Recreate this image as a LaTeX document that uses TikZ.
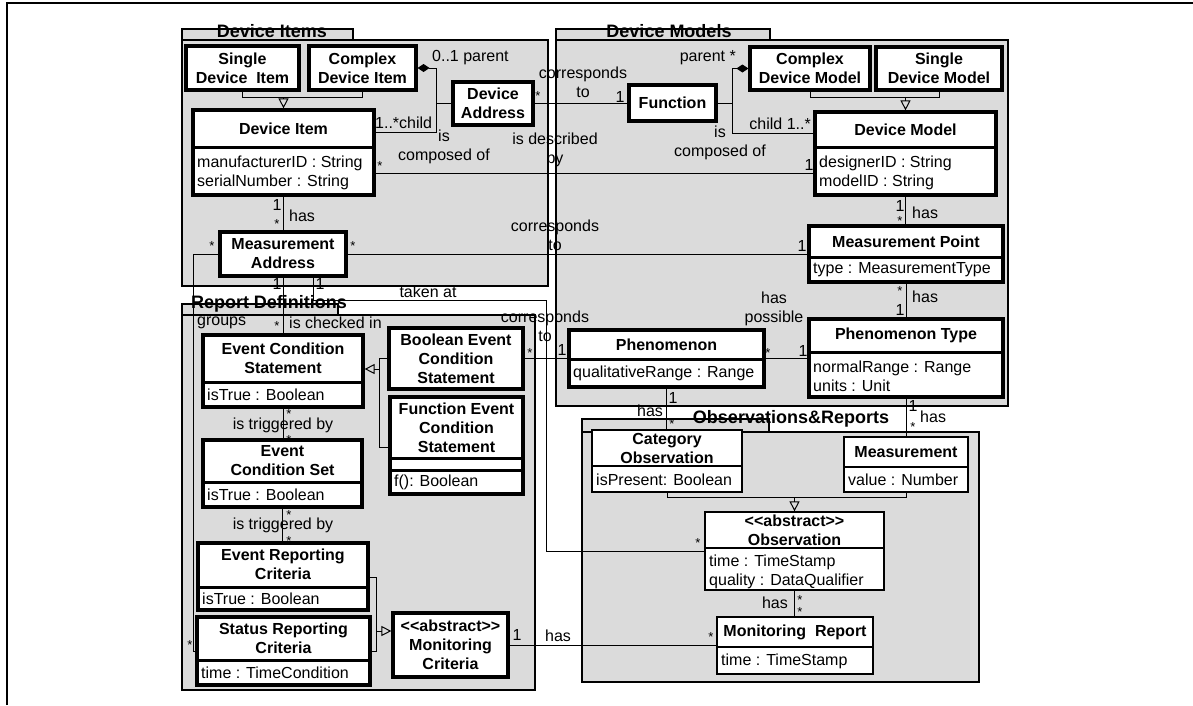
\documentclass[tikz,border=0pt]{standalone}
\usepackage{fontspec}
\setmainfont{Liberation Sans}
\usetikzlibrary{arrows.meta,fit}
\pgfdeclarelayer{bg}
\pgfdeclarelayer{mid}
\pgfsetlayers{bg,mid,main}
\begin{document}
\begin{tikzpicture}[x=1pt,y=-1pt,font=\fontsize{16}{19}\selectfont,
  pkg/.style={draw=black,line width=1.1pt,fill=black!14},
  plbl/.style={font=\fontsize{18}{20}\selectfont\bfseries,inner sep=0pt},
  cls/.style={draw=black,line width=3.2pt,fill=white,inner sep=0pt,rectangle},
  clt/.style={draw=black,line width=1.3pt,fill=white,inner sep=0pt,rectangle},
  dv/.style={line width=3pt},
  dvt/.style={line width=1.3pt},
  nm/.style={font=\fontsize{16}{19}\selectfont\bfseries,align=center,inner sep=0pt},
  att/.style={anchor=west,align=left,inner sep=0pt},
  lb/.style={inner sep=0pt,align=center},
  lw/.style={inner sep=0pt,anchor=west},
  le/.style={inner sep=0pt,anchor=east},
  st/.style={inner sep=0pt,font=\fontsize{13}{13}\selectfont,yshift=-2.8pt},
  conn/.style={line width=1pt},
  gen/.style={conn,-{Triangle[open,length=10pt,width=10pt,line width=1pt]}},
  comp/.style={conn,-{Diamond[length=12pt,width=8pt]}}]
\useasboundingbox (0,0) rectangle (1193,705);

% background and packages
\begin{pgfonlayer}{bg}
\fill[white] (0,0) rectangle (1193,705);
\draw[pkg] (182,29) rectangle (353,40);
\draw[pkg] (182,40) rectangle (548,286);
\draw[pkg] (556,29) rectangle (770,40);
\draw[pkg] (556,40) rectangle (1008,406);
\draw[pkg] (182,304) rectangle (338,315);
\draw[pkg] (182,315) rectangle (535,690);
\draw[pkg] (582,419) rectangle (769,432);
\draw[pkg] (582,432) rectangle (979,682);
\end{pgfonlayer}
\draw[line width=2.5pt] (7,705) -- (7,3) -- (1193,3);
\node[plbl] (pDI) at (272,31) {Device Items};
\node[plbl] (pDM) at (669,31) {Device Models};
\node[plbl] (pRD) at (269,304) {Report Definitions};
\node[plbl] (pOR) at (791,419) {Observations\&Reports};

% classes
\node[cls,fit={(186,46) (299,90)}] (sdi) {};
\node[nm] (sdi-t) at (242.5,68) {Single\\Device~ Item};
\node[cls,fit={(309,46) (416,90)}] (cdi) {};
\node[nm] (cdi-t) at (362.5,68) {Complex\\Device Item};
\node[cls,fit={(193,110) (374,195)}] (di) {};
\draw[dv] (di.west |- 0,147) -- (di.east |- 0,147);
\node[nm] (di-t) at (283.5,128.5) {Device Item};
\node[att] (di-a) at (197,172.5) {manufacturerID : String\\serialNumber : String};
\node[cls,fit={(453,82) (533,125)}] (da) {};
\node[nm] (da-t) at (493,103.5) {Device\\Address};
\node[cls,fit={(629,85) (716,121)}] (fn) {};
\node[nm] (fn-t) at (672.5,103) {Function};
\node[cls,fit={(750,47) (870,90)}] (cdm) {};
\node[nm] (cdm-t) at (810,68.5) {Complex\\Device Model};
\node[cls,fit={(876,47) (1002,90)}] (sdm) {};
\node[nm] (sdm-t) at (939,68.5) {Single\\Device Model};
\node[cls,fit={(815,112) (996,195)}] (dm) {};
\draw[dv] (dm.west |- 0,147) -- (dm.east |- 0,147);
\node[nm] (dm-t) at (905.5,129.5) {Device Model};
\node[att] (dm-a) at (819,172.5) {designerID : String\\modelID : String};
\node[cls,fit={(220,232) (346,276)}] (ma) {};
\node[nm] (ma-t) at (283,254) {Measurement\\Address};
\node[cls,fit={(809,226) (1003,282)}] (mp) {};
\draw[dv] (mp.west |- 0,257) -- (mp.east |- 0,257);
\node[nm] (mp-t) at (906,241.5) {Measurement Point};
\node[att] (mp-a) at (813,270) {type : MeasurementType};
\node[cls,fit={(809,319) (1003,397)}] (pt) {};
\draw[dv] (pt.west |- 0,352) -- (pt.east |- 0,352);
\node[nm] (pt-t) at (906,335.5) {Phenomenon Type};
\node[att] (pt-a) at (813,376) {normalRange : Range\\units : Unit};
\node[cls,fit={(569,330) (764,387)}] (ph) {};
\draw[dv] (ph.west |- 0,359) -- (ph.east |- 0,359);
\node[nm] (ph-t) at (666.5,344.5) {Phenomenon};
\node[att] (ph-a) at (573,373) {qualitativeRange : Range};
\node[cls,fit={(203,335) (363,407)}] (ecs) {};
\draw[dv] (ecs.west |- 0,382) -- (ecs.east |- 0,382);
\node[nm] (ecs-t) at (283,358) {Event Condition\\Statement};
\node[att] (ecs-a) at (207,395) {isTrue : Boolean};
\node[cls,fit={(389,328) (523,389)}] (becs) {};
\node[nm] (becs-t) at (456,358.5) {Boolean Event\\Condition\\Statement};
\node[cls,fit={(390,397) (523,494)}] (fecs) {};
\draw[dv] (fecs.west |- 0,458) -- (fecs.east |- 0,458);
\draw[dv] (fecs.west |- 0,470) -- (fecs.east |- 0,470);
\node[nm] (fecs-t) at (456.5,427.5) {Function Event\\Condition\\Statement};
\node[att] (fecs-a) at (394,482.5) {f(): Boolean};
\node[cls,fit={(203,440) (362,507)}] (ecset) {};
\draw[dv] (ecset.west |- 0,482) -- (ecset.east |- 0,482);
\node[nm] (ecset-t) at (282.5,461) {Event\\Condition Set};
\node[att] (ecset-a) at (207,495) {isTrue : Boolean};
\node[cls,fit={(198,543) (368,610)}] (erc) {};
\draw[dv] (erc.west |- 0,587) -- (erc.east |- 0,587);
\node[nm] (erc-t) at (283,564.5) {Event Reporting\\Criteria};
\node[att] (erc-a) at (202,599) {isTrue : Boolean};
\node[cls,fit={(197,617) (370,685)}] (src) {};
\draw[dv] (src.west |- 0,660) -- (src.east |- 0,660);
\node[nm] (src-t) at (283.5,638.5) {Status Reporting\\Criteria};
\node[att] (src-a) at (201,673) {time : TimeCondition};
\node[cls,fit={(393,613) (508,677)}] (mc) {};
\node[nm] (mc-t) at (450.5,645) {<\kern0pt<abstract>\kern0pt>\\Monitoring\\Criteria};
\node[clt,fit={(592,430) (742,492)}] (co) {};
\draw[dvt] (co.west |- 0,466) -- (co.east |- 0,466);
\node[nm] (co-t) at (667,448) {Category\\Observation};
\node[att] (co-a) at (596,479.5) {isPresent: Boolean};
\node[clt,fit={(844,437) (968,492)}] (me) {};
\draw[dvt] (me.west |- 0,467) -- (me.east |- 0,467);
\node[nm] (me-t) at (906,452) {Measurement};
\node[att] (me-a) at (848,480) {value : Number};
\node[clt,fit={(705,512) (884,590)}] (ob) {};
\draw[dvt] (ob.west |- 0,548) -- (ob.east |- 0,548);
\node[nm] (ob-t) at (794.5,530) {<\kern0pt<abstract>\kern0pt>\\Observation};
\node[att] (ob-a) at (709,571.5) {time : TimeStamp\\quality : DataQualifier};
\node[clt,fit={(717,617) (873,674)}] (mr) {};
\draw[dvt] (mr.west |- 0,647) -- (mr.east |- 0,647);
\node[nm] (mr-t) at (795,632) {Monitoring~ Report};
\node[att] (mr-a) at (721,661) {time : TimeStamp};

% bend points
\coordinate (j1) at (283.5,97);
\coordinate (k1) at (436,132);
\coordinate (k3) at (732,133);
\coordinate (j2) at (905.5,97);
\coordinate (h1) at (0,173);
\coordinate (t1) at (313,300);
\coordinate (t2) at (546,551);
\coordinate (g1) at (193,651);
\coordinate (j3) at (379,369);
\coordinate (f1) at (0,447);
\coordinate (e1) at (376,577);
\coordinate (e2) at (376,651);
\coordinate (e3) at (0,631);
\coordinate (j5) at (794.5,497);

% connectors
\begin{pgfonlayer}{mid}
\draw[conn] (sdi.south) |- (j1);
\draw[conn] (cdi.south) |- (j1);
\draw[gen] (j1) -- (di.north);
\draw[comp] (di.east |- k1) -- (k1) |- (cdi.east);
\draw[conn] (k1 |- da.west) -- (da.west);
\draw[conn] (da.east) -- (fn.west |- da.east);
\draw[comp] (dm.west |- k3) -- (k3) |- (cdm.west);
\draw[conn] (fn.east) -- (k3 |- fn.east);
\draw[conn] (cdm.south) |- (j2);
\draw[conn] (sdm.south) |- (j2);
\draw[gen] (j2) -- (dm.north);
\draw[conn] (di.east |- h1) -- (dm.west |- h1);
\draw[conn] (di.south) -- (di.south |- ma.north);
\draw[conn] (ma.east) -- (mp.west |- ma.east);
\draw[conn] (dm.south) -- (dm.south |- mp.north);
\draw[conn] (mp.south) -- (mp.south |- pt.north);
\draw[conn] (ma.south) -- (ma.south |- ecs.north);
\draw[conn] (ma.south -| t1) -- (t1) -- (t1 -| t2) -- (t2) -- (ob.west |- t2);
\draw[conn] (ma.west) -- (g1 |- ma.west) -- (g1) -- (src.west |- g1);
\draw[conn] (becs.west) -| (j3);
\draw[conn] (fecs.west |- f1) -| (j3);
\draw[gen] (j3) -- (ecs.east |- j3);
\draw[conn] (ecs.south) -- (ecs.south |- ecset.north);
\draw[conn] (ecset.south) -- (ecset.south |- erc.north);
\draw[conn] (erc.east |- e1) -- (e1) -- (e2) -- (src.east |- e2);
\draw[gen] (e1 |- e3) -- (mc.west |- e3);
\draw[conn] (becs.east) -- (ph.west |- becs.east);
\draw[conn] (ph.east) -- (pt.west |- ph.east);
\draw[conn] (ph.south) -- (ph.south |- co.north);
\draw[conn] (pt.south) -- (pt.south |- me.north);
\draw[conn] (co.south) |- (j5);
\draw[conn] (me.south) |- (j5);
\draw[gen] (j5) -- (ob.north);
\draw[conn] (ob.south) -- (ob.south |- mr.north);
\draw[conn] (mc.east) -- (mr.west |- mc.east);
\end{pgfonlayer}

% labels
\node[lw] (l1) at (432,58) {0..1 parent};
\node[lw] (l2) at (375,123) {1..*child};
\node[lb] (l3) at (444,147) {is\\composed of};
\node[st] (l4) at (538,93) {*};
\node[lb] (l5) at (583,82) {corresponds\\to};
\node[lb] (l6) at (620,97) {1};
\node[le] (l7) at (736,58) {parent *};
\node[le] (l8) at (811,124) {child 1..*};
\node[lb] (l9) at (720,143) {is\\composed of};
\node[lb] (l10) at (555,150) {is described\\by};
\node[st] (l11) at (380,163) {*};
\node[lb] (l12) at (809,165) {1};
\node[lb] (l13) at (277,205) {1};
\node[st] (l14) at (277,221) {*};
\node[lw] (l15) at (289,216) {has};
\node[lb] (l16) at (900,206) {1};
\node[st] (l17) at (900,218) {*};
\node[lw] (l18) at (912,213) {has};
\node[st] (l19) at (353,243) {*};
\node[lb] (l20) at (802,246) {1};
\node[lb] (l21) at (555,235) {corresponds\\to};
\node[st] (l22) at (900,288) {*};
\node[lb] (l23) at (900,310) {1};
\node[lw] (l24) at (912,297) {has};
\node[st] (l25) at (212,243) {*};
\node[lw] (l26) at (197,323) {groups};
\node[st] (l27) at (190,642) {*};
\node[lb] (l28) at (277,284) {1};
\node[st] (l29) at (277,323) {*};
\node[lw] (l30) at (289,323) {is checked in};
\node[lb] (l31) at (320,284) {1};
\node[lb] (l32) at (428,292) {taken at};
\node[st] (l33) at (698,540) {*};
\node[st] (l34) at (530,350) {*};
\node[lb] (l35) at (562,350) {1};
\node[lb] (l36) at (545,326) {corresponds\\to};
\node[st] (l37) at (768,350) {*};
\node[lb] (l38) at (803,351) {1};
\node[lb] (l39) at (774,309) {has\\possible};
\node[lb] (l40) at (673,398) {1};
\node[lb] (l41) at (650,411) {has};
\node[st] (l42) at (672,421) {*};
\node[lb] (l43) at (913,406) {1};
\node[st] (l44) at (913,424) {*};
\node[lw] (l45) at (920,417) {has};
\node[st] (l46) at (289,411) {*};
\node[lb] (l47) at (283,425) {is triggered by};
\node[st] (l48) at (289,437) {*};
\node[st] (l49) at (289,512) {*};
\node[lb] (l50) at (283,525) {is triggered by};
\node[st] (l51) at (289,538) {*};
\node[lb] (l52) at (517,635) {1};
\node[lb] (l53) at (558,636) {has};
\node[st] (l54) at (711,634) {*};
\node[le] (l55) at (788,603) {has};
\node[st] (l56) at (800,597) {*};
\node[st] (l57) at (800,609) {*};
\end{tikzpicture}
\end{document}
